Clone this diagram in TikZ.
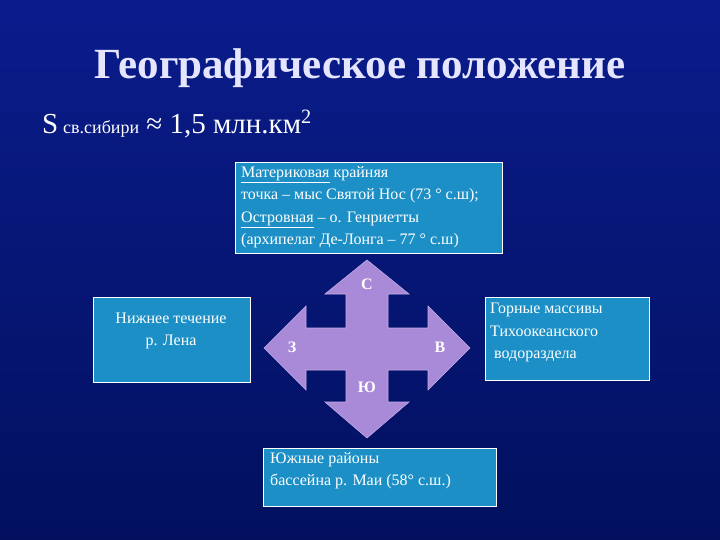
\documentclass[tikz,border=0pt]{standalone}
\usepackage{fontspec}
\setmainfont{Liberation Serif}
\begin{document}
\begin{tikzpicture}[x=1pt,y=-1pt,
  box/.style={draw=white,fill=boxc,line width=0.8pt},
  btxt/.style={text=white,font=\fontsize{16}{22.5}\selectfont,align=left,anchor=north west,inner sep=0pt},
  dir/.style={text=white,font=\fontsize{16}{16}\selectfont\bfseries}]
\definecolor{boxc}{HTML}{1C90C6}
\definecolor{arrc}{HTML}{A98AD8}
\definecolor{bgtop}{HTML}{0A1C8C}
\definecolor{bgbot}{HTML}{02105E}
\shade[top color=bgtop,bottom color=bgbot] (0,0) rectangle (720,540);
\useasboundingbox (0,0) rectangle (720,540);
\node[text=white!90!blue,font=\fontsize{43}{43}\selectfont\bfseries] (title) at (360,68) {Географическое положение};
\node[text=white,font=\fontsize{29}{29}\selectfont,anchor=west,inner sep=0pt] (area) at (42,124) {S\,{\fontsize{18}{18}\selectfont св.сибири} ≈ 1,5 млн.км\textsuperscript{2}};
\draw[box] (235,162) rectangle (502,253);
\node[btxt] (t) at (241,166) {\underline{Материковая} крайняя\\точка – мыс Святой Нос (73 ° с.ш);\\\underline{Островная} – о. Генриетты\\(архипелаг Де-Лонга – 77 ° с.ш)};
\draw[box] (93,297) rectangle (250,382);
\node[text=white,font=\fontsize{16}{22}\selectfont,align=center] (l) at (171,331) {Нижнее течение\\р. Лена};
\draw[box] (485,297) rectangle (649,380);
\node[btxt] (r) at (490,303) {Горные массивы\\Тихоокеанского\\\ водораздела};
\draw[box] (263,448) rectangle (496,506);
\node[btxt] (bb) at (270,452) {Южные районы\\бассейна р. Маи (58° с.ш.)};
\draw[fill=arrc,draw=arrc!70!white,line width=0.6pt]
 (367,260) -- (409,294) -- (388,294) -- (388,328) -- (428,328) -- (428,306) -- (470,348)
 -- (428,390) -- (428,370) -- (388,370) -- (388,402) -- (409,402) -- (367,438)
 -- (325,402) -- (346,402) -- (346,370) -- (306,370) -- (306,390) -- (264,348)
 -- (306,306) -- (306,328) -- (346,328) -- (346,294) -- (325,294) -- cycle;
\node[dir] (n) at (367,284) {С};
\node[dir] (s) at (367,387) {Ю};
\node[dir] (w) at (292,347) {З};
\node[dir] (e) at (440,347) {В};
\end{tikzpicture}
\end{document}
